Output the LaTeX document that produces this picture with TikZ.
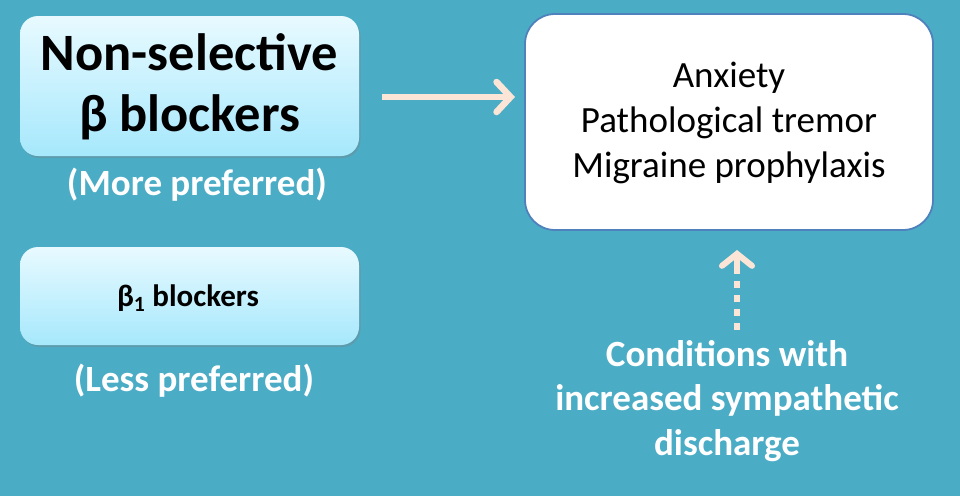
\documentclass[tikz,border=0pt]{standalone}
\usepackage{fontspec}
\setmainfont{Carlito}
\usetikzlibrary{arrows.meta,shadows,positioning}
\definecolor{bg}{HTML}{4BACC6}
\definecolor{peach}{HTML}{FBE5D6}
\definecolor{boxtop}{HTML}{E8FAFF}
\definecolor{boxbot}{HTML}{A6E8FC}
\definecolor{bordblue}{HTML}{4F81BD}
\tikzset{
  drugbox/.style={rounded corners=18pt, top color=boxtop, bottom color=boxbot, draw=none,
    drop shadow={shadow xshift=1.5pt, shadow yshift=-2pt, opacity=0.35}},
  whitelabel/.style={text=white, font=\bfseries, align=center},
  peacharrow/.style={draw=peach, line width=6.5pt, -{Straight Barb[length=14pt, width=30pt, line cap=round]}}
}
\begin{document}
\begin{tikzpicture}[x=1pt,y=-1pt]
\fill[bg] (0,0) rectangle (960,496);
\useasboundingbox (0,0) rectangle (960,496);
% box 1
\path[drugbox] (20,16) rectangle (359,156);
\node[align=center, font=\fontsize{52.5}{61}\selectfont\bfseries] (ns) at (189.5,87) {Non-selective\\β blockers};
\node[whitelabel, font=\fontsize{37}{40}\selectfont\bfseries] (mp) at (197,185) {(More preferred)};
% box 2
\path[drugbox] (20,247) rectangle (359,345);
\node[font=\fontsize{31}{34}\selectfont\bfseries] (b1) at (188,298) {β\textsubscript{1} blockers};
\node[whitelabel, font=\fontsize{37}{40}\selectfont\bfseries] (lp) at (194,381) {(Less preferred)};
% box 3
\draw[bordblue, line width=1.8pt, fill=white, rounded corners=30pt] (525,14) rectangle (933,230);
\node[align=center, font=\fontsize{37}{45}\selectfont] (cond) at (729,123) {Anxiety\\Pathological tremor\\Migraine prophylaxis};
\coordinate (target) at (525,97);
\coordinate (a1) at (382,97);
\draw[peacharrow, shorten >=10pt] (a1) -- (target);
% bottom text
\node[whitelabel, font=\fontsize{37}{44.5}\selectfont\bfseries] (sym) at (727,401) {Conditions with\\increased sympathetic\\discharge};
\coordinate (d2) at (737,250);
\draw[draw=peach, line width=6pt, dash pattern=on 7pt off 7pt] (737,330) -- (737,262);
\draw[draw=peach, line width=6pt, -{Straight Barb[length=12pt, width=30pt, line cap=round]}] (737,268) -- (d2);
\end{tikzpicture}
\end{document}
